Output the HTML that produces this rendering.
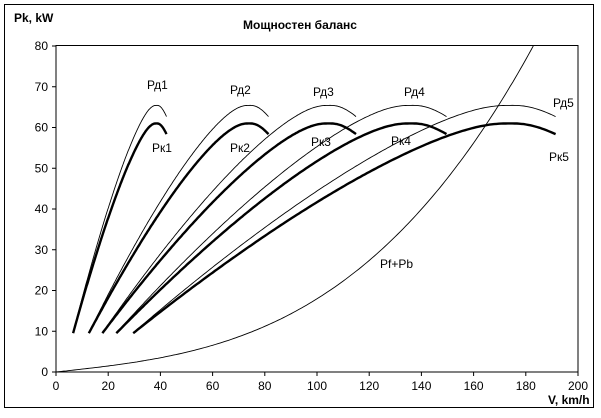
<!DOCTYPE html>
<html><head><meta charset="utf-8"><style>
body{margin:0;background:#fff}
svg text{font-family:"Liberation Sans",Arial,sans-serif;font-size:12px;fill:#000}
</style></head><body>
<svg id="s" width="601" height="413" xmlns="http://www.w3.org/2000/svg">
<rect x="4.5" y="4.5" width="589" height="403" fill="#fff" stroke="#000"/>
<rect x="56" y="45.5" width="522" height="326.5" fill="none" stroke="#000"/>
<text x="300" y="29" text-anchor="middle" font-weight="bold">Мощностен баланс</text>
<text x="14" y="22" font-weight="bold">Pk, kW</text>
<text x="548" y="404" font-weight="bold">V, km/h</text>
<text x="147" y="89">Рд1</text><text x="152" y="152">Рк1</text>
<text x="230" y="94">Рд2</text><text x="230" y="152">Рк2</text>
<text x="313" y="96">Рд3</text><text x="311" y="146">Рк3</text>
<text x="404" y="96">Рд4</text><text x="391" y="145">Рк4</text>
<text x="553" y="107">Рд5</text><text x="549" y="161">Рк5</text>
<text x="380" y="268">Pf+Pb</text>
</svg>
<script>
var NS="http://www.w3.org/2000/svg",s=document.getElementById('s');
function X(v){return 56+v*2.61}function Y(p){return 372-p*4.075}
function el(t,a,txt){var e=document.createElementNS(NS,t);for(var k in a)e.setAttribute(k,a[k]);if(txt!=null)e.textContent=txt;s.appendChild(e);return e}
for(var i=0;i<=8;i++){var y=Y(i*10);el('line',{x1:52,x2:56,y1:y,y2:y,stroke:'#000'});el('text',{x:48,y:y+4,'text-anchor':'end'},i*10)}
for(var i=0;i<=10;i++){var x=X(i*20);el('line',{x1:x,x2:x,y1:372,y2:376,stroke:'#000'});el('text',{x:x,y:390,'text-anchor':'middle'},i*20)}
var peaks=[38.5,74,104.5,136,174];
var e=0.05;
function u(x){return Math.sqrt(x*x+e*e)-e}
var A=0.844/Math.pow(u(0.83),1.35), B=0.043/Math.pow(u(0.1),1.35);
function f(r){return r<1?1-A*Math.pow(u(1-r),1.35):1-B*Math.pow(u(r-1),1.35)}
peaks.forEach(function(pk){
 [[61,2.4,0],[65.5,0.9,1]].forEach(function(c){
  var d='';for(var r=0.17;r<=1.1001;r+=0.005){
   var p=c[0]*f(r);
   if(c[2]){p=p-0.6*(1.1-r)/0.93;}
   d+=(d?'L':'M')+X(pk*r).toFixed(1)+' '+Y(p).toFixed(1)}
  el('path',{d:d,fill:'none',stroke:'#000','stroke-width':c[1]})})});
var d='';for(var v=0;v<=200;v+=1){var p=0.0697*v+1.1e-5*v*v*v;if(p>80.5)break;d+=(d?'L':'M')+X(v).toFixed(1)+' '+Y(p).toFixed(1)}
el('path',{d:d,fill:'none',stroke:'#000','stroke-width':0.9});
</script>
</body></html>
